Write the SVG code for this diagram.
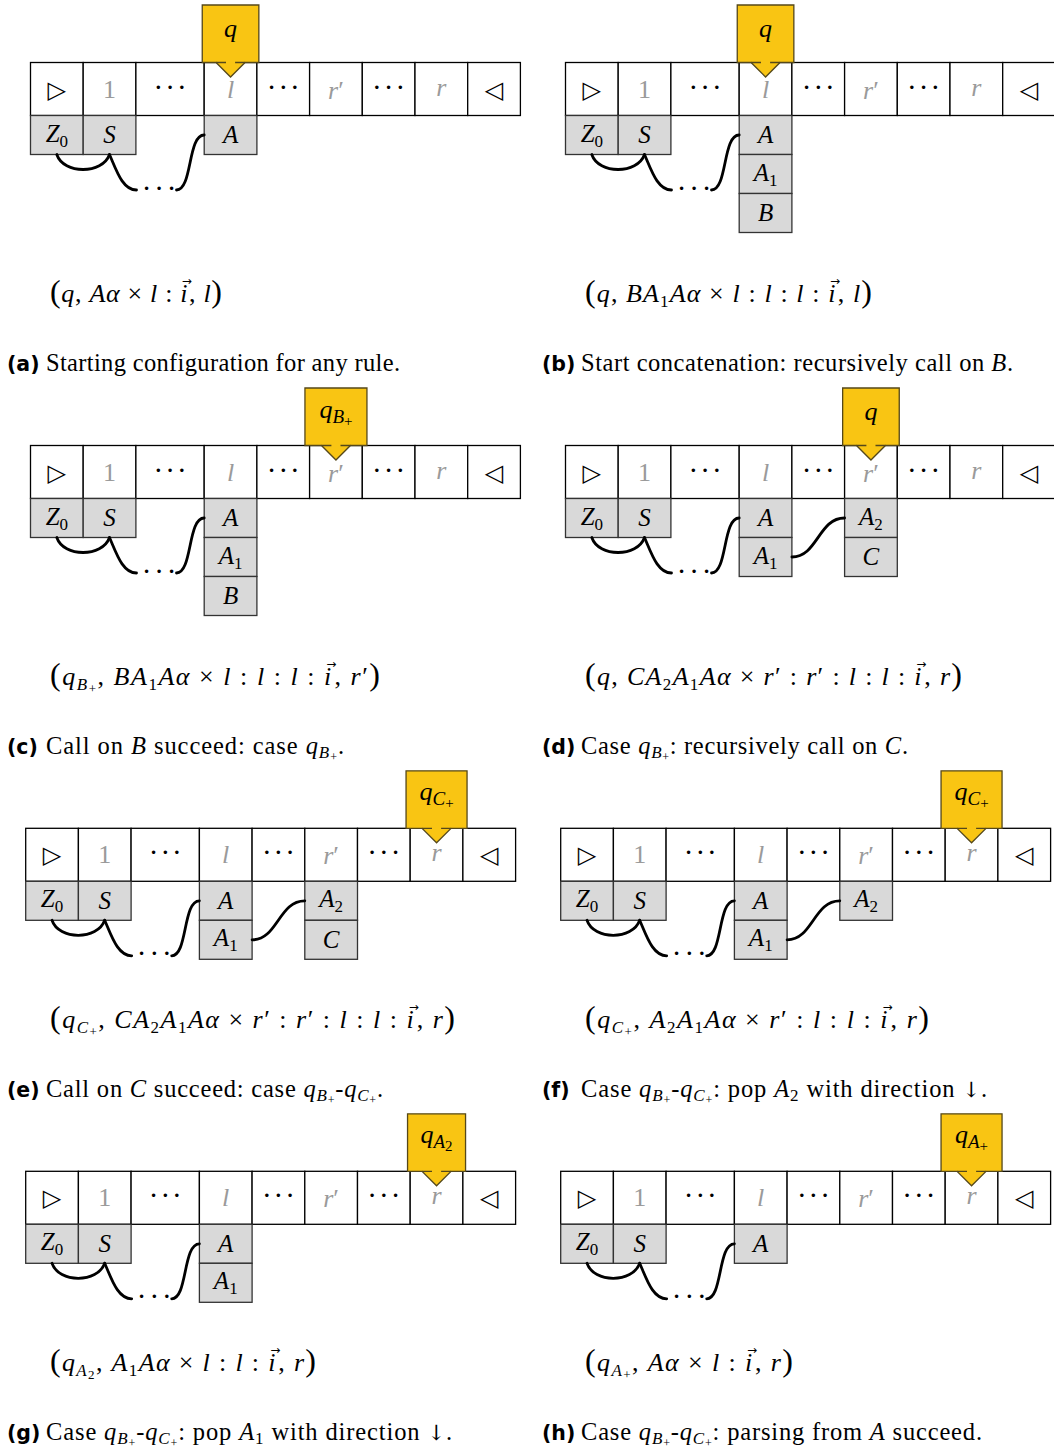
<svg xmlns="http://www.w3.org/2000/svg" xmlns:xlink="http://www.w3.org/1999/xlink" width="1054" height="1450" viewBox="0 0 1054 1450">
<style>
.tc{fill:#fff;stroke:#000;stroke-width:1.3}
.sc{fill:#d9d9d9;stroke:#333;stroke-width:1.3}
.hd{fill:#f9c513;stroke:#55481a;stroke-width:1.3}
.hl{fill:none;stroke:#55481a;stroke-width:1.3}
.lk{fill:none;stroke:#000;stroke-width:2.8;stroke-linecap:round}
.t{font-family:"Liberation Serif",serif;font-size:26px;text-anchor:middle;fill:#000}
.d{font-family:"Liberation Serif",serif;font-size:29px;text-anchor:middle;fill:#000}
.s{font-family:"Liberation Serif",serif;font-size:25px;text-anchor:middle;fill:#000}
.h{font-family:"Liberation Serif",serif;font-size:26px;text-anchor:middle;fill:#000}
.g{fill:#9a9a9a}
.i{font-style:italic}
.sb{font-size:17px}
.hs{font-size:19px}
.hss{font-size:15px}
.ssb{font-size:13px}
.sym{font-family:"DejaVu Sans",sans-serif;font-size:24px;text-anchor:middle;fill:#000}
.f{font-family:"Liberation Serif",serif;font-size:26px;fill:#000}
.P{font-size:32px;font-style:normal}
.ar{font-family:"DejaVu Sans",sans-serif;font-size:12px;font-style:normal}
.dn{font-family:"DejaVu Serif",serif;font-size:21px;fill:#000}
.c{font-family:"Liberation Serif",serif;font-size:24.5px;fill:#000}
.cs{font-size:17px}
.css{font-size:12px}
.lab{font-family:"DejaVu Sans",sans-serif;font-weight:bold;font-size:20.5px;fill:#000}
</style>
<defs>
<g id="tape">
<rect class="tc" x="0" y="0" width="52.7" height="53"/>
<rect class="tc" x="52.7" y="0" width="52.7" height="53"/>
<rect class="tc" x="105.4" y="0" width="68.3" height="53"/>
<rect class="tc" x="173.7" y="0" width="52.7" height="53"/>
<rect class="tc" x="226.4" y="0" width="52.7" height="53"/>
<rect class="tc" x="279.1" y="0" width="52.7" height="53"/>
<rect class="tc" x="331.8" y="0" width="52.7" height="53"/>
<rect class="tc" x="384.5" y="0" width="52.7" height="53"/>
<rect class="tc" x="437.2" y="0" width="52.7" height="53"/>
<text class="sym" x="26.35" y="35">▷</text>
<text class="t g" x="79.05" y="35">1</text>
<text class="d" x="127.85 139.55 151.25" y="34">···</text>
<text class="t g i" x="200.05" y="35">l</text>
<text class="d" x="241.05 252.75 264.45" y="34">···</text>
<text class="t g" x="305.45" y="36"><tspan class="i">r</tspan>′</text>
<text class="d" x="346.45 358.15 369.85" y="34">···</text>
<text class="t g i" x="410.85" y="33">r</text>
<text class="sym" x="463.55" y="35">◁</text>
</g>
<g id="base">
<rect class="sc" x="0" y="53" width="52.7" height="39"/>
<rect class="sc" x="52.7" y="53" width="52.7" height="39"/>
<text class="s" x="26.35" y="79"><tspan class="i">Z</tspan><tspan class="sb" dy="5">0</tspan></text>
<text class="s" x="79.05" y="80.5"><tspan class="i">S</tspan></text>
</g>
<g id="chain">
<path class="lk" d="M26.3,92 C33,112 72,112 79,92"/>
<path class="lk" d="M79,92 C86,108 92,127.5 106,127.5"/>
<text class="d" x="116 128.6 141.2" y="135">···</text>
<path class="lk" d="M146,127.5 C162,127.5 157,72.5 173.7,72.5"/>
</g>
<path id="link2" class="lk" d="M226.4,111.5 C252,111.5 253,72.5 279.1,72.5"/>
<g id="cA"><rect class="sc" x="173.7" y="53" width="52.7" height="39"/><text class="s" x="200.05" y="80.5"><tspan class="i">A</tspan></text></g>
<g id="cA1"><rect class="sc" x="173.7" y="92" width="52.7" height="39"/><text class="s" x="200.05" y="118"><tspan class="i">A</tspan><tspan class="sb" dy="5">1</tspan></text></g>
<g id="cB"><rect class="sc" x="173.7" y="131" width="52.7" height="39"/><text class="s" x="200.05" y="158.5"><tspan class="i">B</tspan></text></g>
<g id="cA2"><rect class="sc" x="279.1" y="53" width="52.7" height="39"/><text class="s" x="305.45" y="79"><tspan class="i">A</tspan><tspan class="sb" dy="5">2</tspan></text></g>
<g id="cC"><rect class="sc" x="279.1" y="92" width="52.7" height="39"/><text class="s" x="305.45" y="119.5"><tspan class="i">C</tspan></text></g>
</defs>

<!-- (a) -->
<g id="panel-a" transform="translate(30.5,62.5)">
<g id="a-tape"><use xlink:href="#tape"/></g>
<g id="a-stack-base"><use xlink:href="#base"/></g>
<g id="a-stack-l"><use xlink:href="#cA"/></g>
<g id="a-head"><path class="hd" d="M171.75,-57.5 H228.35 V0 H214.55 L200.05,14.5 L185.55,0 H171.75 Z"/><path class="hl" d="M185.55,0 H195.5 M204.6,0 H214.55"/><text class="h" x="200.05" y="-26"><tspan class="i">q</tspan></text></g>
<g id="a-links"><use xlink:href="#chain"/></g>
</g>
<text class="f" x="50" y="302" textLength="172" lengthAdjust="spacing"><tspan class="P">(</tspan><tspan class="i">q</tspan>, <tspan class="i">Aα</tspan> × <tspan class="i">l</tspan> : <tspan class="i">i</tspan><tspan class="ar" dx="-6.5" dy="-17">→</tspan><tspan dx="-3.5" dy="17">, </tspan><tspan class="i">l</tspan><tspan class="P">)</tspan></text>
<text class="lab" x="7" y="371">(a)</text>
<text class="c" x="46" y="371" textLength="354" lengthAdjust="spacing">Starting configuration for any rule.</text>

<!-- (b) -->
<g id="panel-b" transform="translate(565.5,62.5)">
<g id="b-tape"><use xlink:href="#tape"/></g>
<g id="b-stack-base"><use xlink:href="#base"/></g>
<g id="b-stack-l"><use xlink:href="#cA"/><use xlink:href="#cA1"/><use xlink:href="#cB"/></g>
<g id="b-head"><path class="hd" d="M171.75,-57.5 H228.35 V0 H214.55 L200.05,14.5 L185.55,0 H171.75 Z"/><path class="hl" d="M185.55,0 H195.5 M204.6,0 H214.55"/><text class="h" x="200.05" y="-26"><tspan class="i">q</tspan></text></g>
<g id="b-links"><use xlink:href="#chain"/></g>
</g>
<text class="f" x="585" y="302" textLength="287" lengthAdjust="spacing"><tspan class="P">(</tspan><tspan class="i">q</tspan>, <tspan class="i">BA</tspan><tspan class="sb" dy="5">1</tspan><tspan class="i" dy="-5">Aα</tspan> × <tspan class="i">l</tspan> : <tspan class="i">l</tspan> : <tspan class="i">l</tspan> : <tspan class="i">i</tspan><tspan class="ar" dx="-6.5" dy="-17">→</tspan><tspan dx="-3.5" dy="17">, </tspan><tspan class="i">l</tspan><tspan class="P">)</tspan></text>
<text class="lab" x="542" y="371">(b)</text>
<text class="c" x="581" y="371" textLength="432" lengthAdjust="spacing">Start concatenation: recursively call on <tspan class="i">B</tspan>.</text>

<!-- (c) -->
<g id="panel-c" transform="translate(30.5,445.5)">
<g id="c-tape"><use xlink:href="#tape"/></g>
<g id="c-stack-base"><use xlink:href="#base"/></g>
<g id="c-stack-l"><use xlink:href="#cA"/><use xlink:href="#cA1"/><use xlink:href="#cB"/></g>
<g id="c-head"><path class="hd" d="M274.45,-57.5 H336.45 V0 H319.95 L305.45,14.5 L290.95,0 H274.45 Z"/><path class="hl" d="M290.95,0 H300.9 M310,0 H319.95"/><text class="h" x="305.45" y="-28"><tspan class="i">q</tspan><tspan class="i hs" dy="5">B</tspan><tspan class="hss" dy="3">+</tspan></text></g>
<g id="c-links"><use xlink:href="#chain"/></g>
</g>
<text class="f" x="50" y="685" textLength="330" lengthAdjust="spacing"><tspan class="P">(</tspan><tspan class="i">q</tspan><tspan class="i sb" dy="5">B</tspan><tspan class="ssb" dy="3">+</tspan><tspan dy="-8">, </tspan><tspan class="i">BA</tspan><tspan class="sb" dy="5">1</tspan><tspan class="i" dy="-5">Aα</tspan> × <tspan class="i">l</tspan> : <tspan class="i">l</tspan> : <tspan class="i">l</tspan> : <tspan class="i">i</tspan><tspan class="ar" dx="-6.5" dy="-17">→</tspan><tspan dx="-3.5" dy="17">, </tspan><tspan class="i">r</tspan>′<tspan class="P">)</tspan></text>
<text class="lab" x="7" y="754">(c)</text>
<text class="c" x="46" y="754" textLength="298" lengthAdjust="spacing">Call on <tspan class="i">B</tspan> succeed: case <tspan class="i">q</tspan><tspan class="i cs" dy="4">B</tspan><tspan class="css" dy="3">+</tspan><tspan dy="-7">.</tspan></text>

<!-- (d) -->
<g id="panel-d" transform="translate(565.5,445.5)">
<g id="d-tape"><use xlink:href="#tape"/></g>
<g id="d-stack-base"><use xlink:href="#base"/></g>
<g id="d-stack-l"><use xlink:href="#cA"/><use xlink:href="#cA1"/></g>
<g id="d-stack-r"><use xlink:href="#cA2"/><use xlink:href="#cC"/></g>
<g id="d-head"><path class="hd" d="M277.15,-57.5 H333.75 V0 H319.95 L305.45,14.5 L290.95,0 H277.15 Z"/><path class="hl" d="M290.95,0 H300.9 M310,0 H319.95"/><text class="h" x="305.45" y="-26"><tspan class="i">q</tspan></text></g>
<g id="d-links"><use xlink:href="#chain"/><use xlink:href="#link2"/></g>
</g>
<text class="f" x="585" y="685" textLength="377" lengthAdjust="spacing"><tspan class="P">(</tspan><tspan class="i">q</tspan>, <tspan class="i">CA</tspan><tspan class="sb" dy="5">2</tspan><tspan class="i" dy="-5">A</tspan><tspan class="sb" dy="5">1</tspan><tspan class="i" dy="-5">Aα</tspan> × <tspan class="i">r</tspan>′ : <tspan class="i">r</tspan>′ : <tspan class="i">l</tspan> : <tspan class="i">l</tspan> : <tspan class="i">i</tspan><tspan class="ar" dx="-6.5" dy="-17">→</tspan><tspan dx="-3.5" dy="17">, </tspan><tspan class="i">r</tspan><tspan class="P">)</tspan></text>
<text class="lab" x="542" y="754">(d)</text>
<text class="c" x="581" y="754" textLength="327" lengthAdjust="spacing">Case <tspan class="i">q</tspan><tspan class="i cs" dy="4">B</tspan><tspan class="css" dy="3">+</tspan><tspan dy="-7">: recursively call on </tspan><tspan class="i">C</tspan>.</text>

<!-- (e) -->
<g id="panel-e" transform="translate(25.7,828.3)">
<g id="e-tape"><use xlink:href="#tape"/></g>
<g id="e-stack-base"><use xlink:href="#base"/></g>
<g id="e-stack-l"><use xlink:href="#cA"/><use xlink:href="#cA1"/></g>
<g id="e-stack-r"><use xlink:href="#cA2"/><use xlink:href="#cC"/></g>
<g id="e-head"><path class="hd" d="M380.35,-57.5 H441.35 V0 H425.35 L410.85,14.5 L396.35,0 H380.35 Z"/><path class="hl" d="M396.35,0 H406.3 M415.4,0 H425.35"/><text class="h" x="410.85" y="-28"><tspan class="i">q</tspan><tspan class="i hs" dy="5">C</tspan><tspan class="hss" dy="3">+</tspan></text></g>
<g id="e-links"><use xlink:href="#chain"/><use xlink:href="#link2"/></g>
</g>
<text class="f" x="50" y="1028" textLength="405" lengthAdjust="spacing"><tspan class="P">(</tspan><tspan class="i">q</tspan><tspan class="i sb" dy="5">C</tspan><tspan class="ssb" dy="3">+</tspan><tspan dy="-8">, </tspan><tspan class="i">CA</tspan><tspan class="sb" dy="5">2</tspan><tspan class="i" dy="-5">A</tspan><tspan class="sb" dy="5">1</tspan><tspan class="i" dy="-5">Aα</tspan> × <tspan class="i">r</tspan>′ : <tspan class="i">r</tspan>′ : <tspan class="i">l</tspan> : <tspan class="i">l</tspan> : <tspan class="i">i</tspan><tspan class="ar" dx="-6.5" dy="-17">→</tspan><tspan dx="-3.5" dy="17">, </tspan><tspan class="i">r</tspan><tspan class="P">)</tspan></text>
<text class="lab" x="7" y="1097">(e)</text>
<text class="c" x="46" y="1097" textLength="337" lengthAdjust="spacing">Call on <tspan class="i">C</tspan> succeed: case <tspan class="i">q</tspan><tspan class="i cs" dy="4">B</tspan><tspan class="css" dy="3">+</tspan><tspan dy="-7">-</tspan><tspan class="i">q</tspan><tspan class="i cs" dy="4">C</tspan><tspan class="css" dy="3">+</tspan><tspan dy="-7">.</tspan></text>

<!-- (f) -->
<g id="panel-f" transform="translate(560.7,828.3)">
<g id="f-tape"><use xlink:href="#tape"/></g>
<g id="f-stack-base"><use xlink:href="#base"/></g>
<g id="f-stack-l"><use xlink:href="#cA"/><use xlink:href="#cA1"/></g>
<g id="f-stack-r"><use xlink:href="#cA2"/></g>
<g id="f-head"><path class="hd" d="M380.35,-57.5 H441.35 V0 H425.35 L410.85,14.5 L396.35,0 H380.35 Z"/><path class="hl" d="M396.35,0 H406.3 M415.4,0 H425.35"/><text class="h" x="410.85" y="-28"><tspan class="i">q</tspan><tspan class="i hs" dy="5">C</tspan><tspan class="hss" dy="3">+</tspan></text></g>
<g id="f-links"><use xlink:href="#chain"/><use xlink:href="#link2"/></g>
</g>
<text class="f" x="585" y="1028" textLength="344" lengthAdjust="spacing"><tspan class="P">(</tspan><tspan class="i">q</tspan><tspan class="i sb" dy="5">C</tspan><tspan class="ssb" dy="3">+</tspan><tspan dy="-8">, </tspan><tspan class="i">A</tspan><tspan class="sb" dy="5">2</tspan><tspan class="i" dy="-5">A</tspan><tspan class="sb" dy="5">1</tspan><tspan class="i" dy="-5">Aα</tspan> × <tspan class="i">r</tspan>′ : <tspan class="i">l</tspan> : <tspan class="i">l</tspan> : <tspan class="i">i</tspan><tspan class="ar" dx="-6.5" dy="-17">→</tspan><tspan dx="-3.5" dy="17">, </tspan><tspan class="i">r</tspan><tspan class="P">)</tspan></text>
<text class="lab" x="542" y="1097">(f)</text>
<text class="c" x="581" y="1097" textLength="406" lengthAdjust="spacing">Case <tspan class="i">q</tspan><tspan class="i cs" dy="4">B</tspan><tspan class="css" dy="3">+</tspan><tspan dy="-7">-</tspan><tspan class="i">q</tspan><tspan class="i cs" dy="4">C</tspan><tspan class="css" dy="3">+</tspan><tspan dy="-7">: pop </tspan><tspan class="i">A</tspan><tspan class="cs" dy="4">2</tspan><tspan dy="-4"> with direction </tspan><tspan class="dn">↓</tspan>.</text>

<!-- (g) -->
<g id="panel-g" transform="translate(25.7,1171.3)">
<g id="g-tape"><use xlink:href="#tape"/></g>
<g id="g-stack-base"><use xlink:href="#base"/></g>
<g id="g-stack-l"><use xlink:href="#cA"/><use xlink:href="#cA1"/></g>
<g id="g-head"><path class="hd" d="M381.85,-57.5 H439.85 V0 H425.35 L410.85,14.5 L396.35,0 H381.85 Z"/><path class="hl" d="M396.35,0 H406.3 M415.4,0 H425.35"/><text class="h" x="410.85" y="-28"><tspan class="i">q</tspan><tspan class="i hs" dy="5">A</tspan><tspan class="hss" dy="3">2</tspan></text></g>
<g id="g-links"><use xlink:href="#chain"/></g>
</g>
<text class="f" x="50" y="1371" textLength="266" lengthAdjust="spacing"><tspan class="P">(</tspan><tspan class="i">q</tspan><tspan class="i sb" dy="5">A</tspan><tspan class="ssb" dy="3">2</tspan><tspan dy="-8">, </tspan><tspan class="i">A</tspan><tspan class="sb" dy="5">1</tspan><tspan class="i" dy="-5">Aα</tspan> × <tspan class="i">l</tspan> : <tspan class="i">l</tspan> : <tspan class="i">i</tspan><tspan class="ar" dx="-6.5" dy="-17">→</tspan><tspan dx="-3.5" dy="17">, </tspan><tspan class="i">r</tspan><tspan class="P">)</tspan></text>
<text class="lab" x="7" y="1440">(g)</text>
<text class="c" x="46" y="1440" textLength="406" lengthAdjust="spacing">Case <tspan class="i">q</tspan><tspan class="i cs" dy="4">B</tspan><tspan class="css" dy="3">+</tspan><tspan dy="-7">-</tspan><tspan class="i">q</tspan><tspan class="i cs" dy="4">C</tspan><tspan class="css" dy="3">+</tspan><tspan dy="-7">: pop </tspan><tspan class="i">A</tspan><tspan class="cs" dy="4">1</tspan><tspan dy="-4"> with direction </tspan><tspan class="dn">↓</tspan>.</text>

<!-- (h) -->
<g id="panel-h" transform="translate(560.7,1171.3)">
<g id="h-tape"><use xlink:href="#tape"/></g>
<g id="h-stack-base"><use xlink:href="#base"/></g>
<g id="h-stack-l"><use xlink:href="#cA"/></g>
<g id="h-head"><path class="hd" d="M380.35,-57.5 H441.35 V0 H425.35 L410.85,14.5 L396.35,0 H380.35 Z"/><path class="hl" d="M396.35,0 H406.3 M415.4,0 H425.35"/><text class="h" x="410.85" y="-28"><tspan class="i">q</tspan><tspan class="i hs" dy="5">A</tspan><tspan class="hss" dy="3">+</tspan></text></g>
<g id="h-links"><use xlink:href="#chain"/></g>
</g>
<text class="f" x="585" y="1371" textLength="208" lengthAdjust="spacing"><tspan class="P">(</tspan><tspan class="i">q</tspan><tspan class="i sb" dy="5">A</tspan><tspan class="ssb" dy="3">+</tspan><tspan dy="-8">, </tspan><tspan class="i">Aα</tspan> × <tspan class="i">l</tspan> : <tspan class="i">i</tspan><tspan class="ar" dx="-6.5" dy="-17">→</tspan><tspan dx="-3.5" dy="17">, </tspan><tspan class="i">r</tspan><tspan class="P">)</tspan></text>
<text class="lab" x="542" y="1440">(h)</text>
<text class="c" x="581" y="1440" textLength="401" lengthAdjust="spacing">Case <tspan class="i">q</tspan><tspan class="i cs" dy="4">B</tspan><tspan class="css" dy="3">+</tspan><tspan dy="-7">-</tspan><tspan class="i">q</tspan><tspan class="i cs" dy="4">C</tspan><tspan class="css" dy="3">+</tspan><tspan dy="-7">: parsing from </tspan><tspan class="i">A</tspan> succeed.</text>
</svg>
